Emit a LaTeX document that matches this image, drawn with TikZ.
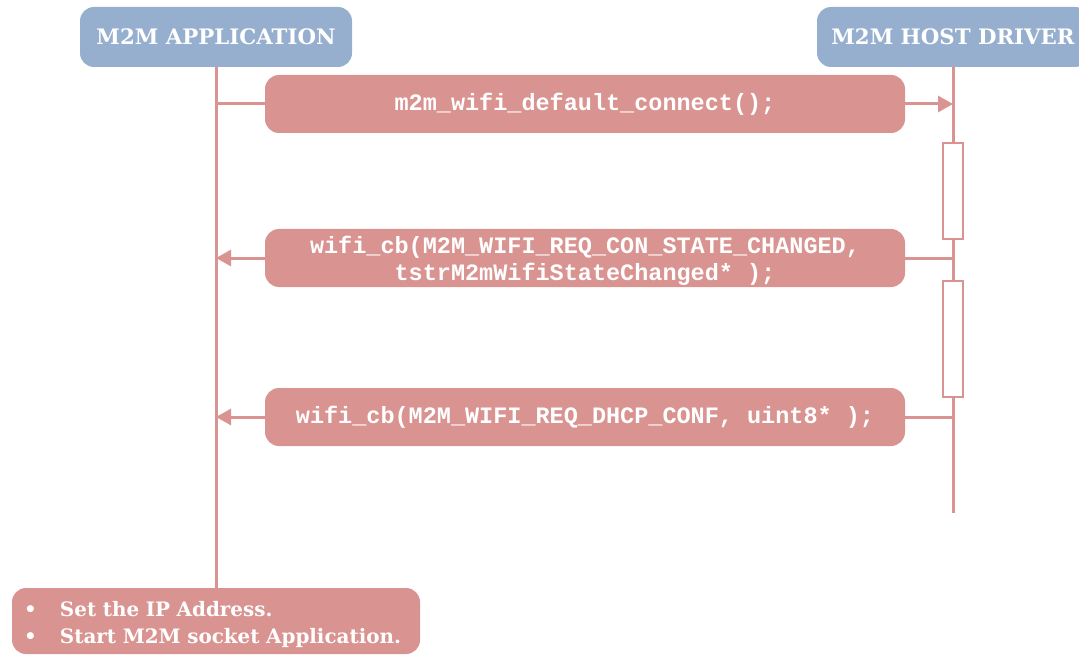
\documentclass[tikz,border=0pt]{standalone}
\usepackage{fontspec}
\setmainfont{DejaVu Serif}
\setmonofont{Liberation Mono}
\usetikzlibrary{positioning, arrows.meta}
\definecolor{hdrblue}{RGB}{151,175,206}
\definecolor{msgred}{RGB}{217,148,145}

\begin{document}
\begin{tikzpicture}[x=1pt, y=-1pt,
    lane/.style={rectangle, rounded corners=14pt, fill=hdrblue, text=white,
        font=\bfseries\fontsize{21.3}{24}\selectfont, minimum height=60pt},
    msg/.style={rectangle, rounded corners=14pt, fill=msgred, text=white,
        font=\ttfamily\bfseries\fontsize{23.5}{27}\selectfont,
        minimum width=640pt, minimum height=58pt, align=center, inner sep=0pt},
    busy/.style={rectangle, draw=msgred, line width=2pt, fill=white,
        minimum width=20pt, inner sep=0pt},
    life/.style={draw=msgred, line width=3pt},
    call/.style={life, -{Triangle[length=15pt, width=16pt, fill=msgred]}}]
    \useasboundingbox (0,0) rectangle (1079,655);

    \node[lane, minimum width=272pt] (app) at (216,37) {M2M APPLICATION};
    \node[lane, minimum width=272pt] (drv) at (953,37) {M2M HOST DRIVER};

    \node[msg] (conn) at (585,104) {m2m\_wifi\_default\_connect();};
    \node[msg, text depth=0pt] (state) at (585,258) {wifi\_cb(M2M\_WIFI\_REQ\_CON\_STATE\_CHANGED,\\ tstrM2mWifiStateChanged* );};
    \node[msg] (dhcp) at (585,417) {wifi\_cb(M2M\_WIFI\_REQ\_DHCP\_CONF, uint8* );};

    \node[rectangle, rounded corners=14pt, fill=msgred, text=white, font=\bfseries\fontsize{19.9}{27}\selectfont,
        minimum width=408pt, minimum height=66pt, inner xsep=12pt, text width=384pt, align=left]
        (ip) at (216,621) {\rule{0pt}{23pt}\makebox[36pt][l]{\textbullet}Set the IP Address.\\
        \makebox[36pt][l]{\textbullet}Start M2M socket Application.};

    \coordinate (drvend) at (953,513);

    % lifelines
    \draw[life] (app) -- (ip);
    \draw[life] (drv) -- (drvend);

    \node[busy, minimum height=96pt] (busy1) at (953,191) {};
    \node[busy, minimum height=116pt] (busy2) at (953,339) {};

    \draw[life] (conn.west -| app) -- (conn.west);
    \draw[call] (conn.east) -- (conn.east -| drv);
    \draw[life] (state.east -| drv) -- (state.east);
    \draw[call] (state.west) -- (state.west -| app);
    \draw[life] (dhcp.east -| drv) -- (dhcp.east);
    \draw[call] (dhcp.west) -- (dhcp.west -| app);
\end{tikzpicture}
\end{document}
